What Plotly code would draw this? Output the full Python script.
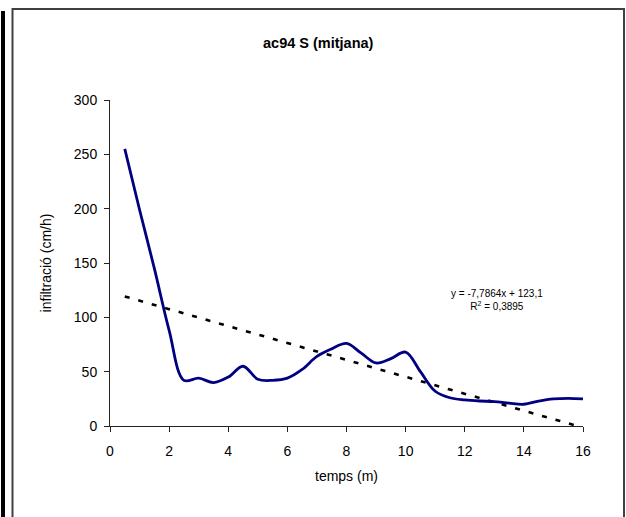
import plotly.graph_objects as go

# ---- data ----
temps = [0.5, 1, 1.5, 2, 2.5, 3, 3.5, 4, 4.5, 5, 5.5, 6, 6.5, 7, 7.5, 8,
         8.5, 9, 9.5, 10, 10.5, 11, 11.5, 12, 12.5, 13, 13.5, 14, 14.5, 15, 15.5, 16]
infiltracio = [255, 199, 145, 88, 42, 44, 40, 45, 55, 43, 42, 44, 52, 64, 71, 76,
               67, 58, 62, 68, 50, 32, 26, 24, 23, 22.5, 21, 20, 23, 25, 25.5, 25]
slope = -7.7864
intercept = 123.1
r2 = "0,3895"
x_ticks = [0, 2, 4, 6, 8, 10, 12, 14, 16]
y_ticks = [0, 50, 100, 150, 200, 250, 300]

# ---- layout geometry (pixels) ----
W, H = 626, 517
L, R, T, B = 110, 43, 100, 91
pw, ph = W - L - R, H - T - B

def px(x):
    return (x - L) / pw

def py(y):
    return (H - B - y) / ph

trend_x = [temps[0], -intercept / slope]
trend_y = [slope * x + intercept for x in trend_x]

fig = go.Figure()
fig.add_trace(go.Scatter(
    x=trend_x, y=trend_y, mode="lines",
    line=dict(color="black", width=2.6, dash="5px,9px"),
    hoverinfo="skip", showlegend=False))
fig.add_trace(go.Scatter(
    x=temps, y=infiltracio, mode="lines",
    line=dict(color="#000080", width=2.8, shape="spline", smoothing=1),
    showlegend=False))

font = "Liberation Sans, Arial, sans-serif"

fig.update_layout(
    width=W, height=H,
    margin=dict(l=L, r=R, t=T, b=B),
    paper_bgcolor="white", plot_bgcolor="white",
    font=dict(family=font, size=14, color="black"),
    xaxis=dict(range=[0, 16], tickvals=x_ticks, ticks="outside", ticklen=5,
               tickcolor="#222", showline=True, linecolor="#222", linewidth=1,
               showgrid=False, zeroline=False, ticklabelstandoff=7,
               title=dict(text="temps (m)", standoff=13, font=dict(size=14))),
    yaxis=dict(range=[0, 300], tickvals=y_ticks, ticks="outside", ticklen=5,
               tickcolor="#222", showline=True, linecolor="#222", linewidth=1,
               showgrid=False, zeroline=False, ticklabelstandoff=4,
               title=dict(text="infiltració (cm/h)", standoff=18, font=dict(size=14))),
    shapes=[
        dict(type="line", xref="paper", yref="paper",
             x0=px(3), x1=px(3), y0=py(11), y1=py(530),
             line=dict(color="black", width=4)),
        dict(type="path", xref="paper", yref="paper",
             path=f"M {px(12.5)},{py(530)} L {px(12.5)},{py(9)} L {px(624)},{py(9)} L {px(624)},{py(530)}",
             line=dict(color="#404040", width=2)),
    ],
    annotations=[
        dict(text="<b>ac94 S (mitjana)</b>", xref="paper", yref="paper",
             x=px(318.5), y=py(43), showarrow=False, font=dict(size=14.5),
             xanchor="center", yanchor="middle"),
        dict(text=f"y = -7,7864x + 123,1<br>R<sup>2</sup> = {r2}", xref="paper", yref="paper",
             x=px(497), y=py(300), showarrow=False, font=dict(size=10),
             xanchor="center", yanchor="middle", align="center"),
    ],
)

fig.write_html("out.html")
